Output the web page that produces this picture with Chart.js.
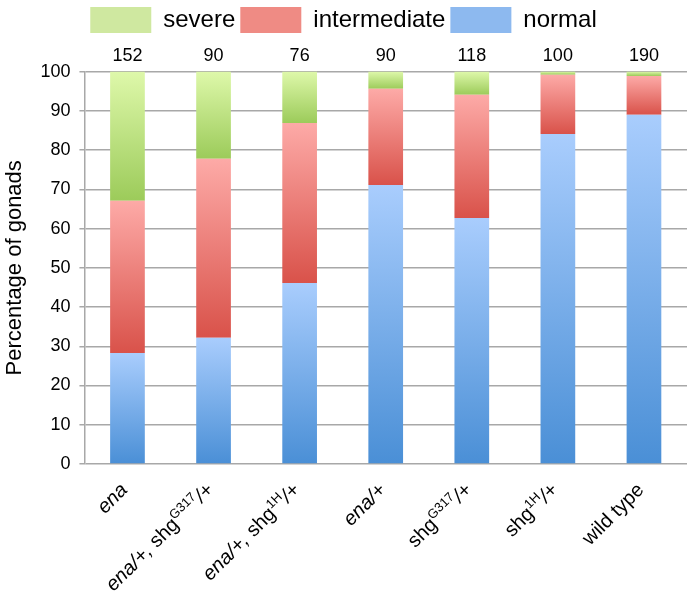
<!DOCTYPE html>
<html>
<head>
<meta charset="utf-8">
<script src="https://cdn.jsdelivr.net/npm/chart.js@4.4.1/dist/chart.umd.min.js"></script>
<style>
  html, body { margin: 0; padding: 0; background: #fff; }
  #wrap { width: 693px; height: 594px; }
</style>
</head>
<body>
<div id="wrap"><canvas id="chart"></canvas></div>
<script>
const genotypes = ['ena', 'ena/+, shgG317/+', 'ena/+, shg1H/+', 'ena/+', 'shgG317/+', 'shg1H/+', 'wild type']
// the same names cut into runs: i = italic, sup = superscript, n = plain
const genotypeRuns = [
  [['ena', 'i']],
  [['ena/+, ', 'i'], ['shg', 'n'], ['G317', 'sup'], ['/+', 'i']],
  [['ena/+, ', 'i'], ['shg', 'n'], ['1H', 'sup'], ['/+', 'i']],
  [['ena/+', 'i']],
  [['shg', 'n'], ['G317', 'sup'], ['/+', 'i']],
  [['shg', 'n'], ['1H', 'sup'], ['/+', 'i']],
  [['wild type', 'n']]
]
const counts = ['152', '90', '76', '90', '118', '100', '190']
const normal = [28.3, 32.2, 46.1, 71.1, 62.7, 84.1, 89]
const intermediate = [38.8, 45.6, 40.8, 24.5, 31.4, 15.1, 9.9]
const severe = [32.9, 22.2, 13.1, 4.4, 5.9, 0.8, 1.1]

const FONT = "'Liberation Sans', Arial, Helvetica, sans-serif"

// light at the top of each segment, dark at its bottom
function segmentFill(light, dark, flat) {
  return (ctx) => {
    const chart = ctx.chart
    const y = chart.scales.y
    if (!chart.chartArea || !y || ctx.type !== 'data') return flat
    let base = 0
    for (let d = 0; d < ctx.datasetIndex; d++) base += chart.data.datasets[d].data[ctx.dataIndex]
    const top = base + chart.data.datasets[ctx.datasetIndex].data[ctx.dataIndex]
    const y0 = y.getPixelForValue(top)
    const y1 = y.getPixelForValue(base)
    if (!isFinite(y0) || !isFinite(y1) || y0 === y1) return flat
    const g = chart.ctx.createLinearGradient(0, y0, 0, y1)
    g.addColorStop(0, light)
    g.addColorStop(1, dark)
    return g
  }
}

// legend is a bit shorter than chart.js makes it
const legendHeight = {
  id: 'legendHeight',
  beforeInit(chart) {
    const fit = chart.legend.fit
    chart.legend.fit = function () {
      fit.call(this)
      this.height = 38
    }
  }
}

const xLabels = {
  id: 'xLabels',
  afterDraw(chart) {
    const { ctx, scales: { x } } = chart
    const bottom = chart.chartArea.bottom
    ctx.save()
    ctx.fillStyle = '#000'
    ctx.textBaseline = 'alphabetic'
    ctx.textAlign = 'left'
    genotypeRuns.forEach((runs, i) => {
      const fontFor = (kind) => kind === 'sup' ? `13px ${FONT}` : kind === 'i' ? `italic 20px ${FONT}` : `20px ${FONT}`
      let total = 0
      runs.forEach(([t, kind]) => { ctx.font = fontFor(kind); total += ctx.measureText(t).width })
      ctx.save()
      ctx.translate(x.getPixelForValue(i) + 1, bottom + 27)
      ctx.rotate(-Math.PI / 4)
      let cx = -total
      runs.forEach(([t, kind]) => {
        ctx.font = fontFor(kind)
        ctx.fillText(t, cx, kind === 'sup' ? -8 : 0)
        cx += ctx.measureText(t).width
      })
      ctx.restore()
    })
    ctx.restore()
  }
}

new Chart(document.getElementById('chart'), {
  type: 'bar',
  data: {
    labels: genotypes,
    datasets: [
      { label: 'normal', data: normal, backgroundColor: segmentFill('#a9cdfd', '#4a8fd6', '#8db9ef') },
      { label: 'intermediate', data: intermediate, backgroundColor: segmentFill('#fdaaa7', '#d9524a', '#ef8b84') },
      { label: 'severe', data: severe, backgroundColor: segmentFill('#def8aa', '#9ccb5a', '#cfe8a0') }
    ]
  },
  options: {
    responsive: true,
    maintainAspectRatio: false,
    animation: false,
    categoryPercentage: 1,
    barPercentage: 0.403,
    layout: { padding: { left: 0, right: 6, top: 2, bottom: 130 } },
    plugins: {
      tooltip: { enabled: false },
      legend: {
        position: 'top',
        reverse: true,
        labels: {
          boxWidth: 61,
          boxHeight: 26,
          padding: 5,
          color: '#000',
          font: { family: FONT, size: 24 },
          generateLabels(chart) {
            const flat = ['#8db9ef', '#ef8b84', '#cfe8a0']
            return chart.data.datasets.map((ds, i) => ({
              text: ds.label,
              fillStyle: flat[i],
              strokeStyle: flat[i],
              lineWidth: 0,
              datasetIndex: i,
              hidden: false
            }))
          }
        }
      }
    },
    scales: {
      x: {
        stacked: true,
        grid: { display: false, drawTicks: false },
        border: { display: false },
        ticks: { display: false }
      },
      counts: {
        type: 'category',
        position: 'top',
        labels: counts,
        offset: true,
        grid: { display: false, drawTicks: false },
        border: { display: false },
        ticks: { color: '#000', padding: 5, font: { family: FONT, size: 18 } }
      },
      y: {
        stacked: true,
        min: 0,
        max: 100,
        grid: { color: '#a8a8a8', lineWidth: 1.5, tickLength: 5 },
        border: { color: '#a8a8a8', width: 1.5 },
        ticks: { stepSize: 10, color: '#000', padding: 9, font: { family: FONT, size: 18 } },
        title: {
          display: true,
          text: 'Percentage of gonads',
          color: '#000',
          padding: { top: 2, bottom: 3 },
          font: { family: FONT, size: 22 }
        }
      }
    }
  },
  plugins: [xLabels, legendHeight]
})
</script>
</body>
</html>
